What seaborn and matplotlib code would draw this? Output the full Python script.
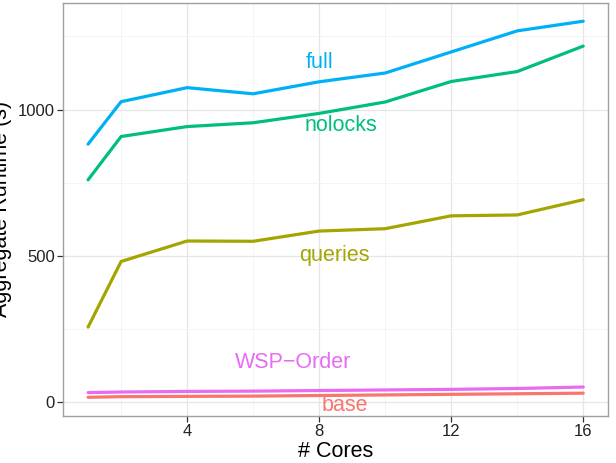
import numpy as np
import pandas as pd
import matplotlib
matplotlib.use("Agg")
import matplotlib.pyplot as plt
from matplotlib.ticker import MultipleLocator
import seaborn as sns

cores = [1, 2, 4, 6, 8, 10, 12, 14, 16]
full = [882, 1027, 1075, 1054, 1095, 1125, 1197, 1269, 1302]
nolocks = [760, 908, 942, 955, 987, 1026, 1096, 1130, 1217]
queries = [257, 481, 551, 550, 585, 593, 637, 640, 692]
wsp_order = [33, 35, 37, 38, 40, 42, 44, 47, 52]
base = [17, 19, 20, 21, 23, 25, 27, 29, 31]

series = {"base": base, "queries": queries, "nolocks": nolocks,
          "full": full, "WSP\u2212Order": wsp_order}
colors = {"base": "#F8766D", "queries": "#A3A500", "nolocks": "#00BF7D",
          "full": "#00B0F6", "WSP\u2212Order": "#E76BF3"}
# where each direct label sits (x, y in data units)
label_pos = {"full": (8.0, 1162), "nolocks": (8.65, 944), "queries": (8.45, 500),
             "WSP\u2212Order": (7.22, 137), "base": (8.77, -11)}

df = pd.DataFrame([(c, name, v) for name, vals in series.items()
                   for c, v in zip(cores, vals)],
                  columns=["cores", "config", "runtime"])

sns.set_theme(style="white")
plt.rcParams["font.family"] = ["Liberation Sans", "DejaVu Sans"]

fig = plt.figure(figsize=(6.16, 4.63), dpi=100)
ax = fig.add_axes([0.1028, 0.1015, 0.8842, 0.8925])

sns.lineplot(data=df, x="cores", y="runtime", hue="config", palette=colors,
             linewidth=2.3, legend=False, ax=ax)

for name, (lx, ly) in label_pos.items():
    ax.text(lx, ly, name, color=colors[name], fontsize=15.5,
            ha="center", va="center")

ax.set_xlim(0.25, 16.75)
ax.set_ylim(-47, 1365)
ax.xaxis.set_major_locator(MultipleLocator(4))
ax.xaxis.set_minor_locator(MultipleLocator(2))
ax.yaxis.set_major_locator(MultipleLocator(500))
ax.yaxis.set_minor_locator(MultipleLocator(250))
ax.grid(which="major", color="#E6E6E6", linewidth=0.9)
ax.grid(which="minor", color="#F2F2F2", linewidth=0.6)
ax.set_axisbelow(True)

for s in ax.spines.values():
    s.set_color("#A0A0A0")
    s.set_linewidth(1.0)

ax.tick_params(axis="both", which="major", direction="out", length=4,
               width=0.9, color="#333333", labelsize=12, labelcolor="#222222",
               pad=2, bottom=True, left=True)
ax.tick_params(axis="both", which="minor", length=0)

ax.set_xlabel("# Cores", fontsize=15.5, color="black", labelpad=1)
ax.set_ylabel("Aggregate Runtime (s)", fontsize=15.5, color="black")
ax.yaxis.set_label_coords(-0.094, 0.5)

fig.savefig("out.png", dpi=100)
